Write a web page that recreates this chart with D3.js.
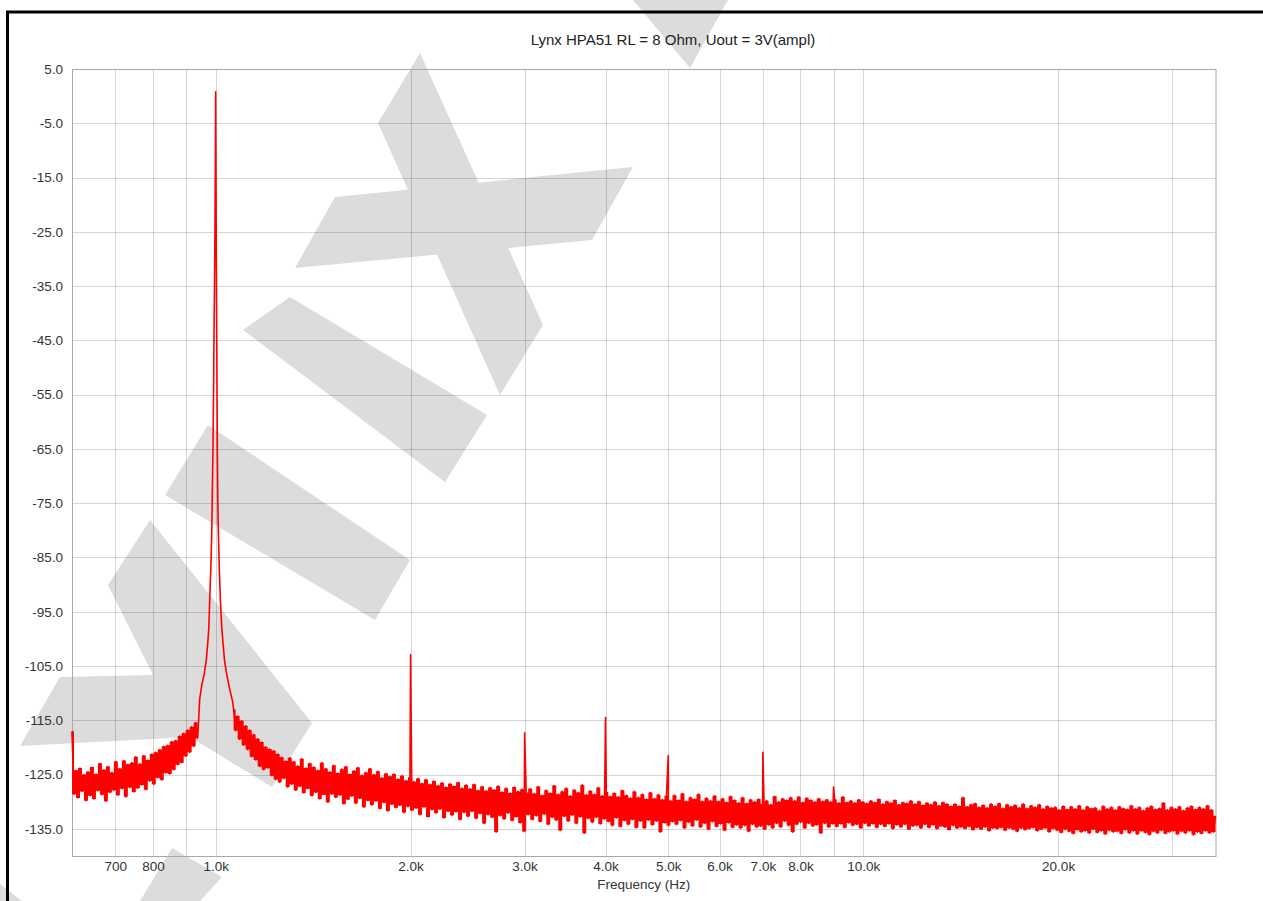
<!DOCTYPE html>
<html>
<head>
<meta charset="utf-8">
<script src="https://cdn.jsdelivr.net/npm/d3@7"></script>
<style>
	body { margin: 0; background: #fff; }
	svg { display: block; }
	text { font-family: "Liberation Sans", Arial, sans-serif; }
</style>
</head>
<body>
<div id="chart"></div>
<script>

// === Data === //

var title = 'Lynx HPA51 RL = 8 Ohm, Uout = 3V(ampl)';
var xTitle = 'Frequency (Hz)';

var yTicks = [5, -5, -15, -25, -35, -45, -55, -65, -75, -85, -95, -105, -115, -125, -135];
var xGrid = [700, 800, 900, 1000, 2000, 3000, 4000, 5000, 6000, 7000, 8000, 9000, 10000, 20000, 30000];
var xTickValues = [700, 800, 1000, 2000, 3000, 4000, 5000, 6000, 7000, 8000, 10000, 20000];
var xTickLabels = ['700', '800', '1.0k', '2.0k', '3.0k', '4.0k', '5.0k', '6.0k', '7.0k', '8.0k', '10.0k', '20.0k'];

// noise floor below the fundamental (max/min per bin pair, spread evenly in log f)
var lowRange = [600, 938];
var lowDb = [
	-117.0, -128.6, -124.2, -129.3, -123.8, -128.1, -125.0, -129.8, -124.5, -128.9,
	-123.6, -129.5, -124.9, -128.0, -122.9, -128.7, -124.1, -129.9, -123.5, -128.3,
	-124.6, -127.9, -122.6, -128.8, -123.9, -127.6, -122.4, -129.1, -123.1, -127.4,
	-122.8, -128.2, -121.7, -127.5, -123.0, -126.9, -121.5, -127.8, -122.3, -126.2,
	-121.2, -126.8, -120.9, -125.6, -120.4, -126.0, -119.8, -124.7, -119.6, -124.9,
	-118.9, -124.1, -118.7, -123.2, -117.9, -122.8, -117.4, -121.6, -116.8, -120.9,
	-116.2, -119.8, -115.4, -118.3
];

// skirt of the 1 kHz fundamental
var skirtHz = [945, 952, 960, 967, 972, 976, 979, 983, 986, 988, 990.5, 992.5, 994, 995.5, 997.5, 999, 1000,
	1001, 1002, 1003, 1004, 1005, 1006, 1007.5, 1010, 1013, 1017, 1022, 1027, 1032, 1040, 1050, 1062];
var skirtDb = [-111, -108.5, -106.5, -104, -101, -98, -93, -87, -81, -74, -65, -55, -45, -37, -25, -12, 0.8,
	-12, -25, -37, -45, -55, -65, -74, -81, -87, -93, -98, -101, -104, -106.5, -109, -111.5];

// noise floor above the fundamental
var highRange = [1066, 35000];
var highDb = [
	-113.0, -116.9, -114.2, -118.5, -115.1, -119.6, -116.0, -120.4, -116.8, -121.7,
	-117.6, -122.3, -118.4, -123.5, -119.0, -124.1, -119.9, -123.8, -120.3, -125.2,
	-120.6, -125.9, -121.2, -126.4, -121.8, -125.7, -122.5, -127.3, -121.9, -126.8,
	-122.6, -127.9, -123.4, -127.2, -122.1, -128.4, -123.8, -127.6, -122.9, -128.9,
	-123.6, -128.3, -124.2, -129.5, -122.8, -128.7, -123.9, -130.1, -124.5, -128.6,
	-123.3, -129.2, -124.7, -128.8, -124.0, -130.4, -123.5, -129.6, -124.9, -129.0,
	-124.3, -130.3, -123.7, -129.4, -125.1, -131.0, -124.6, -129.8, -123.9, -130.6,
	-125.0, -129.9, -124.4, -131.3, -125.6, -130.2, -124.8, -131.7, -125.3, -130.5,
	-124.9, -131.1, -125.8, -130.7, -125.2, -132.0, -126.1, -130.9, -125.5, -131.6,
	-126.3, -131.2, -125.7, -132.4, -126.6, -131.0, -125.9, -132.8, -126.8, -131.5,
	-126.2, -132.1, -127.0, -131.4, -126.5, -133.0, -127.3, -131.8, -126.7, -132.5,
	-127.1, -131.9, -126.4, -133.3, -127.5, -132.0, -126.9, -132.7, -127.6, -131.8,
	-126.8, -133.1, -127.9, -132.2, -127.2, -134.0, -128.0, -132.4, -127.4, -132.9,
	-127.8, -135.6, -127.1, -132.6, -128.2, -133.2, -127.5, -132.1, -128.4, -133.5,
	-127.3, -132.8, -128.1, -133.9, -127.7, -135.5, -128.3, -132.4, -127.6, -133.3,
	-128.5, -132.6, -127.2, -133.7, -128.8, -132.3, -127.9, -134.2, -128.4, -132.9,
	-127.0, -133.4, -128.6, -135.3, -128.1, -132.7, -127.5, -133.6, -128.9, -132.5,
	-127.8, -134.0, -128.3, -132.8, -126.9, -135.8, -128.7, -133.1, -128.0, -133.8,
	-128.6, -132.9, -127.4, -134.1, -128.9, -133.2, -128.2, -133.7, -129.0, -134.4,
	-128.4, -133.0, -129.1, -134.6, -127.9, -133.5, -128.8, -134.2, -129.3, -133.3,
	-128.1, -134.8, -129.2, -133.6, -128.6, -134.9, -129.5, -133.4, -128.3, -134.3,
	-129.4, -133.6, -128.7, -135.6, -129.6, -133.9, -128.9, -134.4, -129.8, -133.7,
	-128.8, -134.2, -129.7, -133.5, -128.5, -134.9, -129.9, -133.8, -129.2, -134.5,
	-129.5, -133.4, -128.6, -134.7, -129.9, -134.0, -129.3, -135.1, -129.8, -133.7,
	-128.9, -134.6, -129.9, -134.1, -129.4, -135.3, -130.1, -133.9, -129.0, -134.8,
	-129.7, -134.3, -130.2, -134.9, -129.2, -134.4, -130.3, -135.5, -129.6, -134.2,
	-130.0, -134.7, -129.5, -134.5, -130.4, -135.1, -129.8, -134.3, -130.5, -134.9,
	-129.0, -134.0, -130.0, -134.7, -129.4, -133.6, -129.7, -134.4, -129.2, -135.6,
	-129.8, -134.2, -129.1, -133.8, -130.1, -134.9, -129.3, -134.0, -129.7, -134.5,
	-130.0, -134.3, -129.4, -135.8, -129.9, -134.0, -129.6, -134.7, -130.0, -134.1,
	-129.6, -134.6, -130.2, -134.1, -129.1, -134.8, -130.1, -133.9, -129.8, -134.4,
	-130.2, -134.2, -129.6, -134.9, -130.0, -134.0, -130.3, -134.5, -129.8, -134.1,
	-130.1, -134.8, -129.5, -134.2, -130.4, -134.6, -129.9, -134.1, -130.2, -135.0,
	-129.7, -134.3, -130.5, -134.7, -130.1, -134.2, -130.3, -135.1, -129.8, -134.5,
	-130.4, -134.4, -129.9, -134.9, -130.6, -134.2, -130.2, -134.8, -130.5, -134.3,
	-130.0, -135.0, -130.7, -134.5, -130.1, -134.7, -130.4, -135.2, -130.8, -134.4,
	-130.4, -134.9, -130.8, -134.7, -129.2, -135.0, -130.9, -134.6, -130.5, -135.2,
	-130.3, -134.8, -131.0, -135.1, -130.6, -134.7, -131.1, -135.4, -130.4, -134.9,
	-130.8, -135.0, -130.3, -134.8, -131.2, -135.3, -130.5, -134.9, -130.9, -135.1,
	-130.6, -135.5, -131.1, -134.9, -130.4, -135.2, -131.2, -135.0, -130.7, -134.8,
	-131.0, -135.4, -130.5, -135.1, -131.3, -134.9, -130.8, -135.6, -131.1, -135.0,
	-131.0, -135.3, -131.5, -135.7, -130.8, -135.1, -131.4, -135.5, -130.9, -135.9,
	-131.3, -135.2, -130.7, -135.6, -131.5, -135.4, -130.9, -135.8, -131.2, -135.1,
	-131.1, -135.7, -131.6, -135.4, -130.8, -136.0, -131.3, -135.3, -131.0, -135.6,
	-131.5, -135.5, -130.9, -135.9, -131.2, -135.2, -131.4, -135.8, -130.7, -135.4,
	-131.3, -136.0, -131.0, -135.4, -131.6, -135.7, -131.1, -136.1, -130.8, -135.5,
	-131.4, -135.8, -131.2, -135.3, -130.2, -135.9, -131.5, -135.6, -131.0, -135.4,
	-131.3, -136.0, -130.9, -135.5, -131.6, -135.8, -131.1, -135.4, -130.8, -136.1,
	-131.4, -135.6, -131.0, -135.9, -131.3, -135.4, -130.7, -135.8, -131.5, -135.6, -132.6
];

// harmonics
var harmonicHz = [2000, 3000, 4000, 5000, 7000, 9000];
var harmonicDb = [-102.9, -117.3, -114.5, -121.5, -120.9, -127.3];

// watermark decoration (pixel space)
var watermark = [
	[[633, 0], [728, 0], [690, 68]],
	[[420, 53], [543, 325], [500, 395], [378, 123]],
	[[335, 197], [633, 167], [592, 240], [295, 268]],
	[[290, 297], [487, 415], [445, 482], [243, 330]],
	[[208, 425], [410, 560], [375, 620], [165, 495]],
	[[150, 520], [312, 723], [272, 787], [190, 737], [20, 746], [60, 677], [153, 675], [108, 585]],
	[[172, 848], [222, 877], [200, 901], [140, 901]],
	[[0, 884], [22, 901], [0, 901]]
];


// === Globals === //

var width = 1263, height = 901;
var margin = { left: 72, top: 69, right: 1215.5, bottom: 856 };

var svg = d3.select('#chart').append('svg').attr('width', width).attr('height', height);

var x = d3.scaleLog().domain([600, 35000]).range([margin.left, margin.right]);
var y = d3.scaleLinear().domain([-140, 5]).range([margin.bottom, margin.top]);


// === Spectrum points === //

function spread(range, values) {

	return values.map(function(v, i) {
		var f = range[0] * Math.pow(range[1] / range[0], i / (values.length - 1));
		return { f: f, db: v };
	});

} // spread()

// min/max between neighbouring bins, so the dense noise reads as a solid band
function envelope(pts) {

	return pts.map(function(p, i) {
		var q = pts[Math.min(i + 1, pts.length - 1)];
		return { f: p.f, lo: Math.min(p.db, q.db), hi: Math.max(p.db, q.db) };
	});

} // envelope()

var lowPts = spread(lowRange, lowDb);
var highPts = spread(highRange, highDb);

var points = lowPts
	.concat(skirtHz.map(function(f, i) { return { f: f, db: skirtDb[i] }; }))
	.concat(highPts)
	.concat(harmonicHz.map(function(f, i) { return { f: f, db: harmonicDb[i] }; }));

points.sort(function(a, b) { return a.f - b.f; });


// === Draw === //

// watermark
svg.append('g').selectAll('polygon')
	.data(watermark)
	.enter().append('polygon')
	.attr('points', function(d) { return d.join(' '); })
	.attr('fill', '#dcdcdc');

// grid
var grid = svg.append('g').attr('stroke', '#000').attr('stroke-opacity', 0.16).attr('stroke-width', 1);

grid.selectAll('line.h')
	.data(yTicks)
	.enter().append('line')
	.attr('x1', margin.left).attr('x2', margin.right)
	.attr('y1', function(d) { return Math.round(y(d)) + 0.5; })
	.attr('y2', function(d) { return Math.round(y(d)) + 0.5; });

grid.selectAll('line.v')
	.data(xGrid)
	.enter().append('line')
	.attr('y1', margin.top).attr('y2', margin.bottom)
	.attr('x1', function(d) { return Math.round(x(d)) + 0.5; })
	.attr('x2', function(d) { return Math.round(x(d)) + 0.5; });

// frame
svg.append('rect')
	.attr('x', margin.left + 0.5).attr('y', margin.top + 0.5)
	.attr('width', margin.right - margin.left).attr('height', margin.bottom - margin.top)
	.attr('fill', 'none').attr('stroke', '#a8a8a8');

// spectrum
var band = d3.area()
	.curve(d3.curveStepAfter)
	.x(function(d) { return x(d.f); })
	.y0(function(d) { return y(d.lo); })
	.y1(function(d) { return y(d.hi); });

svg.append('g').selectAll('path')
	.data([envelope(lowPts), envelope(highPts)])
	.enter().append('path')
	.attr('d', band)
	.attr('fill', '#f00');

var line = d3.line()
	.x(function(d) { return x(d.f); })
	.y(function(d) { return y(d.db); });

svg.append('path')
	.datum(points)
	.attr('d', line)
	.attr('fill', 'none')
	.attr('stroke', '#f00')
	.attr('stroke-width', 1.6)
	.attr('stroke-linejoin', 'round');

// axes
var yAxis = svg.append('g')
	.attr('transform', 'translate(' + margin.left + ',0)')
	.call(d3.axisLeft(y).tickValues(yTicks).tickSize(0).tickPadding(9)
		.tickFormat(function(d) { return d.toFixed(1); }));

var xAxis = svg.append('g')
	.attr('transform', 'translate(0,' + margin.bottom + ')')
	.call(d3.axisBottom(x).tickValues(xTickValues).tickSize(0).tickPadding(5)
		.tickFormat(function(d, i) { return xTickLabels[i]; }));

[xAxis, yAxis].forEach(function(a) {
	a.select('.domain').remove();
	a.selectAll('text').attr('font-size', 13.5).attr('fill', '#333')
		.style('font-family', '"Liberation Sans", Arial, sans-serif');
});

svg.append('text')
	.attr('x', 673).attr('y', 45)
	.attr('text-anchor', 'middle')
	.attr('font-size', 15).attr('fill', '#222')
	.text(title);

svg.append('text')
	.attr('x', (margin.left + margin.right) / 2).attr('y', 889)
	.attr('text-anchor', 'middle')
	.attr('font-size', 13.5).attr('fill', '#333')
	.text(xTitle);

// outer border
svg.append('path')
	.attr('d', 'M7.5,' + height + 'V12H' + width)
	.attr('fill', 'none').attr('stroke', '#000').attr('stroke-width', 3);

</script>
</body>
</html>
